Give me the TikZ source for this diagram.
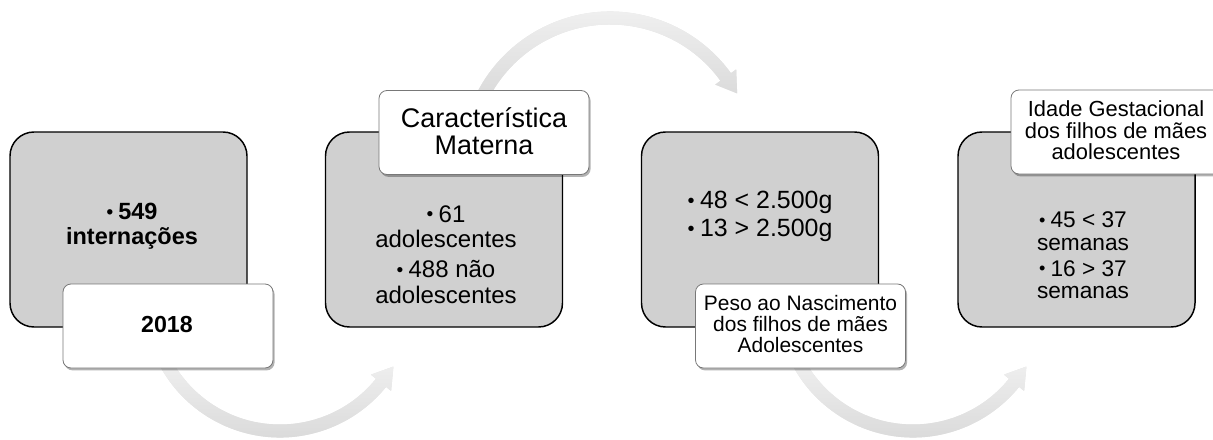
\documentclass[tikz,border=0pt]{standalone}
\usepackage{fontspec}
\usepackage{graphicx}
\setmainfont{Liberation Sans}
\usetikzlibrary{shadows,calc}
\definecolor{boxgray}{RGB}{208,208,208}
\definecolor{hdrline}{RGB}{120,120,120}
\definecolor{arrlight}{RGB}{244,244,244}
\definecolor{arrdark}{RGB}{214,214,214}
\newcommand\bul{\raisebox{0.07em}{\scalebox{0.8}{•}}\hspace{0.22em}}
\begin{document}
\begin{tikzpicture}[x=0.75pt,y=-0.75pt,
  graybox/.style={draw=black, line width=1.1pt, fill=boxgray, rounded corners=18pt,
    minimum width=177.75pt, minimum height=146.25pt, inner sep=0pt},
  hdrbox/.style={draw=hdrline, line width=0.6pt, fill=white, rounded corners=6pt,
    minimum width=157.5pt, minimum height=63pt, inner sep=0pt,
    drop shadow={shadow xshift=1.2pt, shadow yshift=-1.8pt, opacity=0.3, fill=black}},
  txt/.style={align=center, inner sep=0pt, text=black},
  arrowshade/.style={top color=arrlight, bottom color=arrdark, draw=none},
  arrowshadow/.style={fill=black, opacity=0.10, draw=none}
]
\useasboundingbox (0,0) rectangle (1213,439);
\clip (0,0) rectangle (1213,439);

\coordinate (c1) at (280,301);
\coordinate (c2) at (610,161);
\coordinate (c3) at (913,301);

% shadows of the arrows
\begin{scope}[shift={(1.5,3)}]
\fill[arrowshadow] ($(c1)+(160:136.5)$) arc[start angle=160,end angle=39,radius=136.5]
  -- ($(c1)+(39:143)$) -- ($(c1)+(30:131)$) -- ($(c1)+(39:117)$) -- ($(c1)+(39:123.5)$)
  arc[start angle=39,end angle=160,radius=123.5] -- cycle;
\fill[arrowshadow] ($(c2)+(200:149.5)$) arc[start angle=200,end angle=324,radius=149.5]
  -- ($(c2)+(324:156)$) -- ($(c2)+(332:144)$) -- ($(c2)+(324:130)$) -- ($(c2)+(324:136.5)$)
  arc[start angle=324,end angle=200,radius=136.5] -- cycle;
\fill[arrowshadow] ($(c3)+(160:136.5)$) arc[start angle=160,end angle=39,radius=136.5]
  -- ($(c3)+(39:143)$) -- ($(c3)+(30:131)$) -- ($(c3)+(39:117)$) -- ($(c3)+(39:123.5)$)
  arc[start angle=39,end angle=160,radius=123.5] -- cycle;
\end{scope}

% curved arrows
\shade[arrowshade] ($(c1)+(160:136.5)$) arc[start angle=160,end angle=39,radius=136.5]
  -- ($(c1)+(39:143)$) -- ($(c1)+(30:131)$) -- ($(c1)+(39:117)$) -- ($(c1)+(39:123.5)$)
  arc[start angle=39,end angle=160,radius=123.5] -- cycle;
\shade[arrowshade] ($(c2)+(200:149.5)$) arc[start angle=200,end angle=324,radius=149.5]
  -- ($(c2)+(324:156)$) -- ($(c2)+(332:144)$) -- ($(c2)+(324:130)$) -- ($(c2)+(324:136.5)$)
  arc[start angle=324,end angle=200,radius=136.5] -- cycle;
\shade[arrowshade] ($(c3)+(160:136.5)$) arc[start angle=160,end angle=39,radius=136.5]
  -- ($(c3)+(39:143)$) -- ($(c3)+(30:131)$) -- ($(c3)+(39:117)$) -- ($(c3)+(39:123.5)$)
  arc[start angle=39,end angle=160,radius=123.5] -- cycle;

% gray boxes
\node[graybox] (g1) at (128.5,229.5) {};
\node[graybox] (g2) at (444,229.5) {};
\node[graybox] (g3) at (760,229.5) {};
\node[graybox] (g4) at (1076.5,229.5) {};

% header boxes
\node[hdrbox] (h1) at (168,326) {};
\node[hdrbox] (h2) at (484,132.5) {};
\node[hdrbox] (h3) at (800.5,326) {};
\node[hdrbox] (h4) at (1116,132) {};

% texts
\node[txt, font=\fontsize{17.6}{18.75}\selectfont\bfseries] (t1) at (132,226.4) {\bul 549\\internações};
\node[txt, font=\fontsize{18}{19.1}\selectfont] (t2) at (446,254.5) {\bul 61\\adolescentes\\[3.4pt]\bul 488 não\\adolescentes};
\node[txt, font=\fontsize{18.7}{21}\selectfont] (t3) at (760,216.7) {\bul 48 < 2.500g\\\bul 13 > 2.500g};
\node[txt, font=\fontsize{17}{16.9}\selectfont] (t4) at (1083,255.5) {\bul 45 < 37\\semanas\\[2.6pt]\bul 16 > 37\\semanas};

\node[txt, font=\fontsize{17.4}{18}\selectfont\bfseries] (l1) at (167,324.7) {2018};
\node[txt, font=\fontsize{20.2}{20.25}\selectfont] (l2) at (484,131) {Característica\\Materna};
\node[txt, font=\fontsize{15.7}{16.1}\selectfont] (l3) at (800.5,324) {Peso ao Nascimento\\dos filhos de mães\\Adolescentes};
\node[txt, font=\fontsize{16.4}{16.1}\selectfont] (l4) at (1116,130.5) {Idade Gestacional\\dos filhos de mães\\adolescentes};
\end{tikzpicture}
\end{document}
